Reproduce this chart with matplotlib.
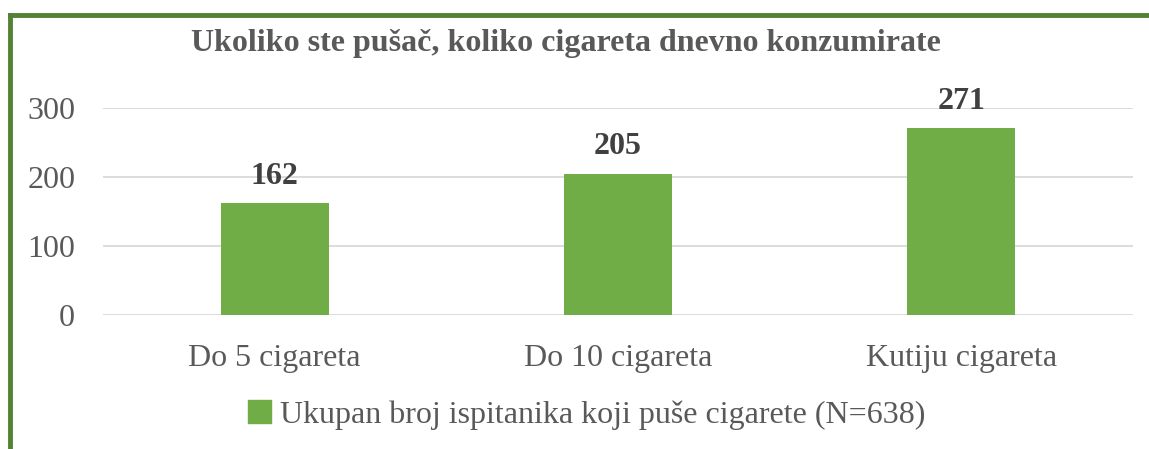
import matplotlib
matplotlib.use("Agg")
import matplotlib.pyplot as plt
from matplotlib.patches import Rectangle
from matplotlib.lines import Line2D

categories = ["Do 5 cigareta", "Do 10 cigareta", "Kutiju cigareta"]
values = [162, 205, 271]
yticks = [0, 100, 200, 300]
title = "Ukoliko ste pušač, koliko cigareta dnevno konzumirate"
legend_label = "Ukupan broj ispitanika koji puše cigarete (N=638)"

plt.rcParams['font.family'] = ['Liberation Serif', 'DejaVu Serif']

W, H = 1149, 449
fig = plt.figure(figsize=(W/100, H/100), dpi=100)
ax = fig.add_axes([103/W, 1-315/H, (1133-103)/W, (315-108)/H])

green = "#70AD47"
gray = "#595959"
x = range(len(categories))
bars = ax.bar(x, values, width=0.315, color=green, zorder=3)
ax.set_xlim(-0.5, len(categories)-0.5)
ax.set_ylim(0, 300)
ax.set_yticks(yticks)
ax.set_yticklabels([str(t) for t in yticks])
ax.set_xticks(list(x))
ax.set_xticklabels(categories)
ax.tick_params(axis='both', length=0, labelsize=23, colors=gray)
ax.tick_params(axis='y', pad=20)
ax.tick_params(axis='x', pad=21)
ax.grid(axis='y', color="#D9D9D9", linewidth=1.3, zorder=0)
for s in ax.spines.values():
    s.set_visible(False)
ax.set_clip_on(False)

for b, v in zip(bars, values):
    ax.annotate(str(v), (b.get_x()+b.get_width()/2, v), xytext=(0, 9),
                textcoords="offset points", ha="center", va="bottom",
                fontsize=23, fontweight="bold", color="#404040")

fig.text(566/W, 1-43/H, title, ha="center", va="center", fontsize=23,
         fontweight="bold", color=gray)

handle = Rectangle((0, 0), 1, 1, color=green)
fig.legend([handle], [legend_label], loc="center", bbox_to_anchor=(587/W, 1-415/H),
           frameon=False, fontsize=23, labelcolor=gray, handlelength=0.7,
           handleheight=0.7, handletextpad=0.3)

border = "#548235"
fig.add_artist(Line2D([10/W, 10/W], [0, 1-15/H], color=border, linewidth=3.5))
fig.add_artist(Line2D([10/W, 1], [1-15/H, 1-15/H], color=border, linewidth=3.5))

fig.savefig("out.png", dpi=100, facecolor="white")
